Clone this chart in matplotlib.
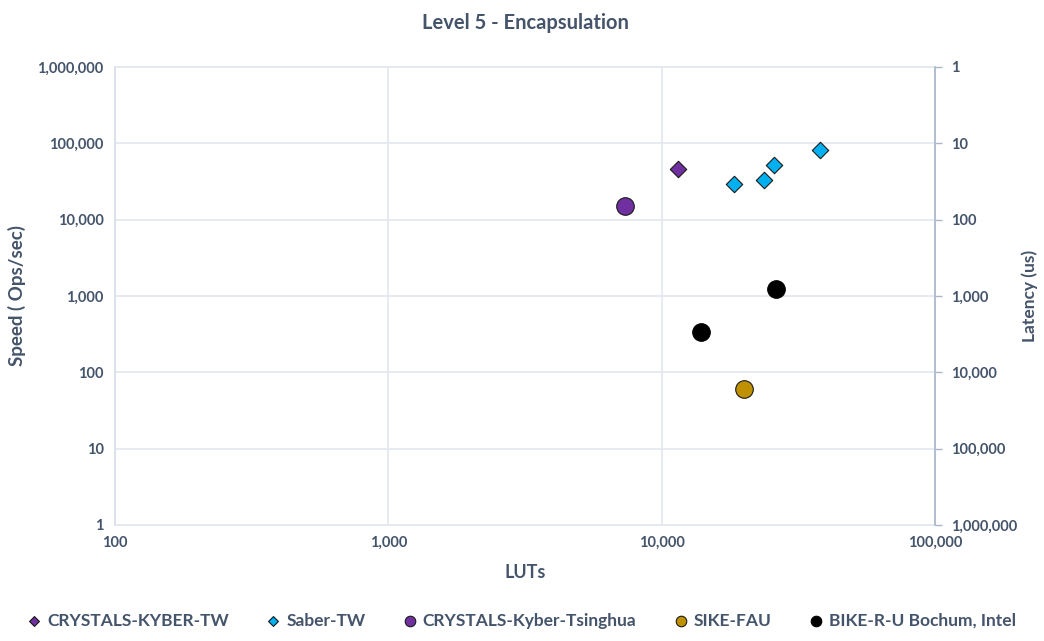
import matplotlib.pyplot as plt
from matplotlib.ticker import FixedLocator, FuncFormatter, NullLocator

plt.rcParams['font.family'] = ['Lato', 'DejaVu Sans']
plt.rcParams['font.weight'] = 'bold'

TXT = '#44546A'

# LUTs vs encapsulation throughput (ops/sec)
kyber_tw_luts = [11500]
kyber_tw_ops = [46500]

saber_tw_luts = [18350, 23700, 25640, 37900]
saber_tw_ops = [29600, 33100, 51500, 80900]

kyber_tsinghua_luts = [7330]
kyber_tsinghua_ops = [14960]

sike_fau_luts = [19970]
sike_fau_ops = [61]

bike_luts = [13860, 26230]
bike_ops = [334, 1236]

fig = plt.figure(figsize=(10.44, 6.41), dpi=100)
ax = fig.add_axes([0.110, 0.181, 0.786, 0.7145])

ax.scatter(kyber_tw_luts, kyber_tw_ops, marker='D', s=70, color='#7030A0',
           edgecolors='#1a1a1a', linewidths=0.8, zorder=3, label='CRYSTALS-KYBER-TW')
ax.scatter(saber_tw_luts, saber_tw_ops, marker='D', s=70, color='#00B0F0',
           edgecolors='#1a1a1a', linewidths=0.8, zorder=3, label='Saber-TW')
ax.scatter(kyber_tsinghua_luts, kyber_tsinghua_ops, marker='o', s=160, color='#7030A0',
           edgecolors='#1a1a1a', linewidths=0.8, zorder=3, label='CRYSTALS-Kyber-Tsinghua')
ax.scatter(sike_fau_luts, sike_fau_ops, marker='o', s=160, color='#BF9000',
           edgecolors='#1a1a1a', linewidths=0.8, zorder=3, label='SIKE-FAU')
ax.scatter(bike_luts, bike_ops, marker='o', s=160, color='black',
           edgecolors='black', linewidths=0.8, zorder=3, label='BIKE-R-U Bochum, Intel')

ax.set_xscale('log')
ax.set_yscale('log')
ax.set_xlim(100, 100000)
ax.set_ylim(1, 1000000)

fmt = FuncFormatter(lambda v, p: f'{v:,.0f}')
ax.xaxis.set_major_locator(FixedLocator([100, 1000, 10000, 100000]))
ax.yaxis.set_major_locator(FixedLocator([10 ** i for i in range(7)]))
ax.xaxis.set_minor_locator(NullLocator())
ax.yaxis.set_minor_locator(NullLocator())
ax.xaxis.set_major_formatter(fmt)
ax.yaxis.set_major_formatter(fmt)
ax.tick_params(length=0, labelsize=10.5, labelcolor=TXT, pad=8)
ax.grid(True, color='#E3E8EF', linewidth=1.2, zorder=0)
ax.set_axisbelow(True)
for s in ax.spines.values():
    s.set_color('#E3E8EF')
    s.set_linewidth(1.2)
ax.spines['left'].set_color('#D6DEE8')

# latency axis: 1e6 / ops, inverted
ax2 = ax.twinx()
ax2.set_yscale('log')
ax2.set_ylim(1, 1000000)
ax2.invert_yaxis()
ax2.yaxis.set_major_locator(FixedLocator([10 ** i for i in range(7)]))
ax2.yaxis.set_minor_locator(NullLocator())
ax2.yaxis.set_major_formatter(fmt)
ax2.tick_params(axis='y', direction='out', length=5, width=1, color='#A9B7CB',
                labelsize=10.5, labelcolor=TXT, pad=6)
for s in ax2.spines.values():
    s.set_visible(False)
ax2.spines['right'].set_visible(True)
ax2.spines['right'].set_color('#A9B7CB')
ax2.spines['right'].set_linewidth(1.2)

ax.set_title('Level 5 - Encapsulation', fontsize=14.5, color=TXT, fontweight='bold', pad=27)
ax.set_xlabel('LUTs', fontsize=13, color=TXT, fontweight='bold', labelpad=10)
ax.set_ylabel('Speed ( Ops/sec)', fontsize=13.5, color=TXT, fontweight='bold', labelpad=8)
ax2.set_ylabel('Latency (us)', fontsize=12.5, color=TXT, fontweight='bold', labelpad=3)

h, l = ax.get_legend_handles_labels()
leg = fig.legend(h, l, loc='lower center', ncol=5, frameon=False, fontsize=12.5,
                 bbox_to_anchor=(0.5, -0.005), handlelength=0.7, handletextpad=0.4,
                 columnspacing=2.2, markerscale=0.6)
for t in leg.get_texts():
    t.set_color(TXT)

fig.savefig('out.png', dpi=100)
